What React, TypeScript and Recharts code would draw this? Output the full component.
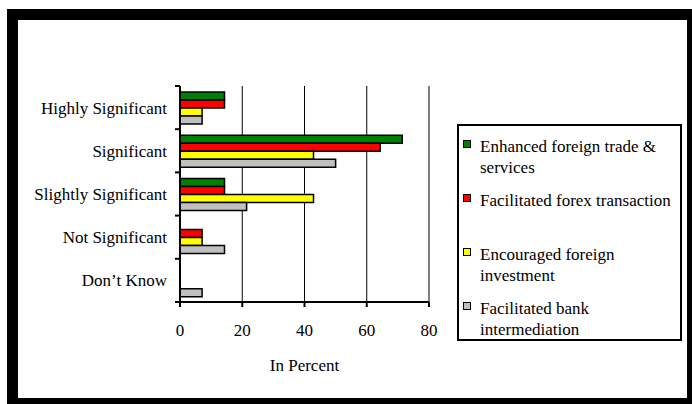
import { BarChart, Bar, XAxis, YAxis, CartesianGrid, Legend } from 'recharts';

const categories = ['Highly Significant', 'Significant', 'Slightly Significant', 'Not Significant', 'Don\u2019t Know'];
const tradeServices = [14.3, 71.4, 14.3, 0, 0];
const forexTransaction = [14.3, 64.3, 14.3, 7.1, 0];
const foreignInvestment = [7.1, 42.9, 42.9, 7.1, 0];
const bankIntermediation = [7.1, 50, 21.4, 14.3, 7.1];
const xTicks = [0, 20, 40, 60, 80];
const seriesNames = [
  'Enhanced foreign trade & services',
  'Facilitated forex transaction',
  'Encouraged foreign investment',
  'Facilitated bank intermediation',
];

const data = categories.map((c, i) => ({
  category: c,
  trade: tradeServices[i],
  forex: forexTransaction[i],
  investment: foreignInvestment[i],
  bank: bankIntermediation[i],
}));

const FONT = '"Liberation Serif", "Times New Roman", serif';
const W = 692;
const H = 404;
const PLOT_TOP = 86;
const PLOT_BOTTOM = 302;
const BAND = (PLOT_BOTTOM - PLOT_TOP) / categories.length;

// label in the middle of each band, tick mark on the band edges (Excel style)
function CategoryTick(props: any) {
  const { x, y, payload, index } = props;
  const axisX = x + 13;
  return (
    <g>
      <line x1={axisX - 5} x2={axisX} y1={y - BAND / 2} y2={y - BAND / 2} stroke="#000" strokeWidth={2} />
      {index === categories.length - 1 && (
        <line x1={axisX - 5} x2={axisX} y1={y + BAND / 2} y2={y + BAND / 2} stroke="#000" strokeWidth={2} />
      )}
      <text x={x} y={y} dy="0.35em" textAnchor="end" fontSize={17} fontFamily={FONT} fill="#000">
        {payload.value}
      </text>
    </g>
  );
}

function LegendBox({ payload }: any) {
  // keep the series order, recharts sorts legend items by name otherwise
  const items = [...(payload || [])].sort(
    (a: any, b: any) => seriesNames.indexOf(a.value) - seriesNames.indexOf(b.value)
  );
  return (
    <div
      style={{
        boxSizing: 'border-box',
        width: 225,
        height: 217,
        border: '2px solid #000',
        background: '#fff',
        padding: '10px 0 0 4px',
        fontFamily: FONT,
        fontSize: 17,
        lineHeight: '21px',
        color: '#000',
      }}
    >
      {items.map((p: any) => (
        <div key={p.value} style={{ display: 'flex', alignItems: 'flex-start', height: 54 }}>
          <span
            style={{
              display: 'inline-block',
              boxSizing: 'border-box',
              width: 8,
              height: 8,
              marginTop: 4,
              marginRight: 9,
              background: p.color,
              border: '1.5px solid #000',
              flex: 'none',
            }}
          />
          <span style={{ maxWidth: 202 }}>{p.value}</span>
        </div>
      ))}
    </div>
  );
}

export default function App() {
  return (
    <div style={{ position: 'relative', width: W, height: H, overflow: 'hidden', background: '#fff' }}>
      <style>{'body{margin:0}'}</style>
      <div
        style={{
          position: 'absolute',
          left: 73,
          top: -17,
          fontFamily: FONT,
          fontWeight: 'bold',
          fontSize: 16,
          lineHeight: '16px',
          whiteSpace: 'nowrap',
        }}
      >
        Significance of Impact of Offshore Banking on the Economy
      </div>
      <div
        style={{
          position: 'absolute',
          left: 7,
          top: 9,
          width: 691,
          height: 400,
          boxSizing: 'border-box',
          border: '11px solid #000',
        }}
      />
      <div style={{ position: 'absolute', left: 0, top: 0 }}>
        <BarChart
          width={W}
          height={H}
          data={data}
          layout="vertical"
          margin={{ top: PLOT_TOP, right: 263, bottom: 52, left: 0 }}
          barSize={8}
          barGap={0}
        >
          <CartesianGrid horizontal={false} stroke="#000" strokeWidth={1} />
          <XAxis
            type="number"
            domain={[0, 80]}
            ticks={xTicks}
            interval={0}
            height={50}
            axisLine={{ stroke: '#000', strokeWidth: 2 }}
            tickLine={{ stroke: '#000', strokeWidth: 2 }}
            tickSize={5}
            tickMargin={17}
            tick={{ fontSize: 17, fontFamily: FONT, fill: '#000' }}
            label={{ value: 'In Percent', position: 'bottom', offset: 7, fontSize: 17, fontFamily: FONT, fill: '#000' }}
          />
          <YAxis
            type="category"
            dataKey="category"
            width={180}
            axisLine={{ stroke: '#000', strokeWidth: 2 }}
            tickLine={false}
            tickSize={5}
            tickMargin={8}
            interval={0}
            tick={<CategoryTick />}
          />
          <Legend
            layout="vertical"
            align="center"
            verticalAlign="middle"
            wrapperStyle={{ top: 124, left: 457, width: 225, height: 217 }}
            content={<LegendBox />}
          />
          <Bar dataKey="trade" name={seriesNames[0]} fill="#008000" stroke="#000" strokeWidth={1.5} isAnimationActive={false} />
          <Bar dataKey="forex" name={seriesNames[1]} fill="#ff0000" stroke="#000" strokeWidth={1.5} isAnimationActive={false} />
          <Bar dataKey="investment" name={seriesNames[2]} fill="#ffff00" stroke="#000" strokeWidth={1.5} isAnimationActive={false} />
          <Bar dataKey="bank" name={seriesNames[3]} fill="#c0c0c0" stroke="#000" strokeWidth={1.5} isAnimationActive={false} />
        </BarChart>
      </div>
    </div>
  );
}
